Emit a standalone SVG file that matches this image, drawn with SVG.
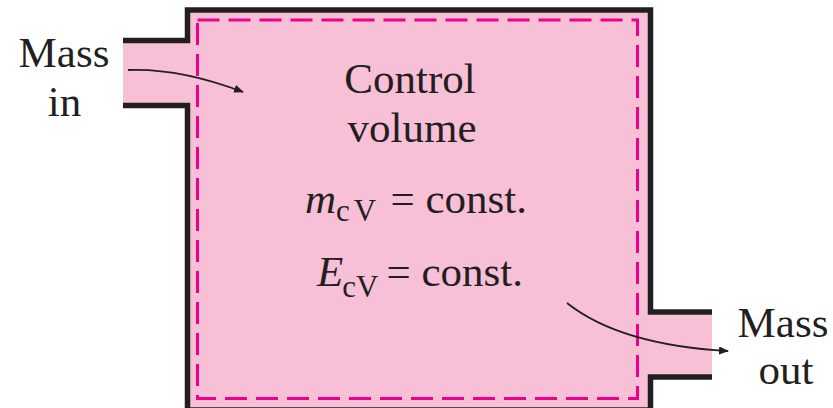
<svg xmlns="http://www.w3.org/2000/svg" width="833" height="408" viewBox="0 0 833 408">
  <style>
    .txt { font-family: "Liberation Serif", "Times New Roman", serif; font-size: 43px; fill: #231F20; }
    .it { font-style: italic; }
    .sub { font-size: 31px; font-style: normal; }
    .wall { fill: none; stroke: #231F20; stroke-width: 5.5; stroke-linejoin: miter; }
    .flow { fill: none; stroke: #231F20; stroke-width: 1.8; }
  </style>
  <defs>
    <marker id="ah" viewBox="0 0 10 8" refX="9" refY="4" markerWidth="10" markerHeight="8" markerUnits="userSpaceOnUse" orient="auto">
      <path d="M0,0 L10,4 L0,8 Z" fill="#231F20"/>
    </marker>
  </defs>
  <rect width="833" height="408" fill="#FFFFFF"/>

  <g id="control-volume">
    <path d="M123,40.5 L187.5,40.5 L187.5,10 L650.5,10 L650.5,312 L712,312 L712,377 L650.5,377 L650.5,410 L187.5,410 L187.5,105.5 L123,105.5 Z" fill="#F8C0D7"/>
    <path class="wall" d="M123,40.5 L187.5,40.5 L187.5,10 L650.5,10 L650.5,312 L712,312"/>
    <path class="wall" d="M712,377 L650.5,377 L650.5,410 L187.5,410 L187.5,105.5 L123,105.5"/>
    <rect x="197.5" y="20" width="440" height="378.5" fill="none" stroke="#EC008C" stroke-width="3" stroke-dasharray="22 9"/>
    <text class="txt" x="410" y="93" text-anchor="middle">Control</text>
    <text class="txt" x="412" y="142" text-anchor="middle">volume</text>
    <text class="txt" x="305" y="213"><tspan class="it">m</tspan><tspan class="sub" dx="0" dy="8">c</tspan><tspan class="sub" dx="4">V</tspan><tspan x="390.5" dy="-8">= const.</tspan></text>
    <text class="txt" x="317" y="286"><tspan class="it">E</tspan><tspan class="sub" dx="-1" dy="11">c</tspan><tspan class="sub">V</tspan><tspan x="386.5" dy="-11">= const.</tspan></text>
  </g>

  <g id="mass-in">
    <text class="txt" x="64" y="67" text-anchor="middle">Mass</text>
    <text class="txt" x="64.5" y="116" text-anchor="middle">in</text>
  </g>

  <g id="mass-out">
    <text class="txt" x="783" y="337" text-anchor="middle">Mass</text>
    <text class="txt" x="786" y="384" text-anchor="middle">out</text>
  </g>

  <g id="connectors">
    <path class="flow" d="M128,70 Q180,68 243,92" marker-end="url(#ah)"/>
    <path class="flow" d="M567,303 Q620,345 728,351" marker-end="url(#ah)"/>
  </g>
</svg>
